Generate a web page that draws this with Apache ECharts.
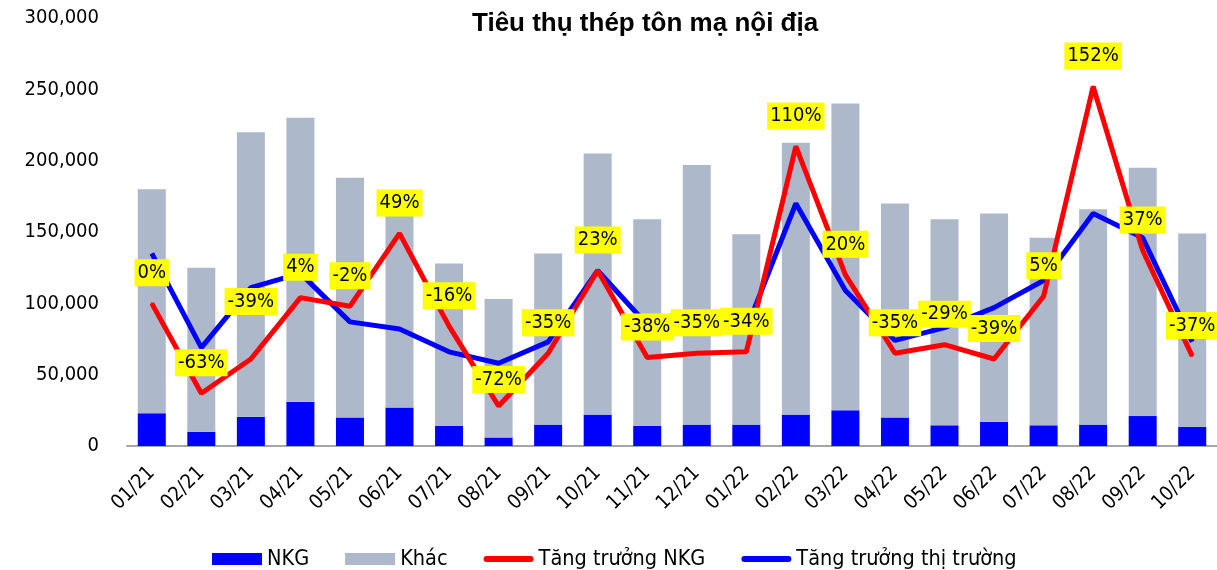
<!DOCTYPE html>
<html>
<head>
<meta charset="utf-8">
<script src="https://cdn.jsdelivr.net/npm/echarts@6/dist/echarts.min.js"></script>
<style>
  html, body { margin: 0; padding: 0; background: #fff; }
  #chart { width: 1217px; height: 570px; }
</style>
</head>
<body>
<div id="chart"></div>
<script>
const months = ['01/21', '02/21', '03/21', '04/21', '05/21', '06/21', '07/21', '08/21', '09/21', '10/21', '11/21',
  '12/21', '01/22', '02/22', '03/22', '04/22', '05/22', '06/22', '07/22', '08/22', '09/22', '10/22']
// tấn
const nkg = [23000, 10000, 20500, 31000, 20000, 27000, 14000, 6000, 15000, 22000, 14000,
  15000, 15000, 22000, 25000, 20000, 14500, 17000, 14500, 15000, 21000, 13500]
const khac = [157000, 115000, 199500, 199000, 168000, 137000, 114000, 97000, 120000, 183000, 145000,
  182000, 133500, 190500, 215000, 150000, 144500, 146000, 131500, 151000, 174000, 135500]
// %
const nkgGrowth = [0, -63, -39, 4, -2, 49, -16, -72, -35, 23, -38,
  -35, -34, 110, 20, -35, -29, -39, 5, 152, 37, -37]
const marketGrowth = [35, -31, 11, 21, -13, -18, -34, -42, -27, 23, -15,
  -17, -18, 70, 9, -26, -17, -3, 16, 63, 46, -27]
const yTicks = [0, 50000, 100000, 150000, 200000, 250000, 300000]

const font = 'DejaVu Sans Condensed'
const lineIcon = 'path://M0,0 M50,12 M3,3 L47,3 A3,3 0 0 1 47,9 L3,9 A3,3 0 0 1 3,3 Z'

const chart = echarts.init(document.getElementById('chart'))

const redData = nkgGrowth.map((v, i) => {
  if (i === 2) return { value: v, label: { distance: 43 } }
  if (i === 7) return { value: v, label: { distance: 12 } }
  return v
})

chart.setOption({
  animation: false,
  title: {
    text: 'Tiêu thụ thép tôn mạ nội địa',
    left: 467,
    top: 6,
    textStyle: { fontFamily: 'Liberation Sans', fontWeight: 'bold', fontSize: 26, color: '#000' },
  },
  legend: {
    left: 207,
    top: 543,
    itemWidth: 50,
    itemHeight: 12,
    itemGap: 36,
    textStyle: { fontFamily: font, fontSize: 21.5, color: '#000' },
    data: [
      { name: 'NKG', icon: 'rect' },
      { name: 'Khác', icon: 'rect' },
      { name: 'Tăng trưởng NKG', icon: lineIcon },
      { name: 'Tăng trưởng thị trường', icon: lineIcon },
    ],
  },
  grid: { left: 127, right: -4, top: 18, bottom: 124 },
  xAxis: {
    type: 'category',
    data: months,
    axisLine: { lineStyle: { color: '#a6a6a6', width: 2 } },
    axisTick: { show: false },
    axisLabel: { rotate: 45, margin: 24, interval: 0, fontFamily: font, fontSize: 20, color: '#000' },
  },
  yAxis: [
    {
      type: 'value',
      min: yTicks[0],
      max: yTicks[yTicks.length - 1],
      interval: 50000,
      splitLine: { show: false },
      axisLine: { show: false },
      axisTick: { show: false },
      axisLabel: {
        margin: 28,
        fontFamily: font,
        fontSize: 20,
        color: '#000',
        formatter: (v) => v.toLocaleString('en-US'),
      },
    },
    { type: 'value', min: -100, max: 200, show: false, splitLine: { show: false } },
  ],
  series: [
    {
      name: 'NKG',
      type: 'bar',
      stack: 'tong',
      barWidth: 28,
      itemStyle: { color: '#0000ff' },
      data: nkg,
    },
    {
      name: 'Khác',
      type: 'bar',
      stack: 'tong',
      barWidth: 28,
      itemStyle: { color: '#adb9ca' },
      data: khac,
    },
    {
      name: 'Tăng trưởng NKG',
      type: 'line',
      yAxisIndex: 1,
      symbol: 'circle',
      symbolSize: 2,
      itemStyle: { color: '#ff0000' },
      lineStyle: { color: '#ff0000', width: 5 },
      label: {
        show: true,
        position: 'top',
        distance: 16,
        formatter: '{c}%',
        fontFamily: font,
        fontSize: 20,
        lineHeight: 23,
        color: '#000',
        backgroundColor: '#ffff00',
        padding: [2, 3, 2, 3],
      },
      z: 3,
      data: redData,
    },
    {
      name: 'Tăng trưởng thị trường',
      type: 'line',
      yAxisIndex: 1,
      symbol: 'none',
      itemStyle: { color: '#0000ff' },
      lineStyle: { color: '#0000ff', width: 5 },
      z: 2,
      data: marketGrowth,
    },
  ],
})
</script>
</body>
</html>
